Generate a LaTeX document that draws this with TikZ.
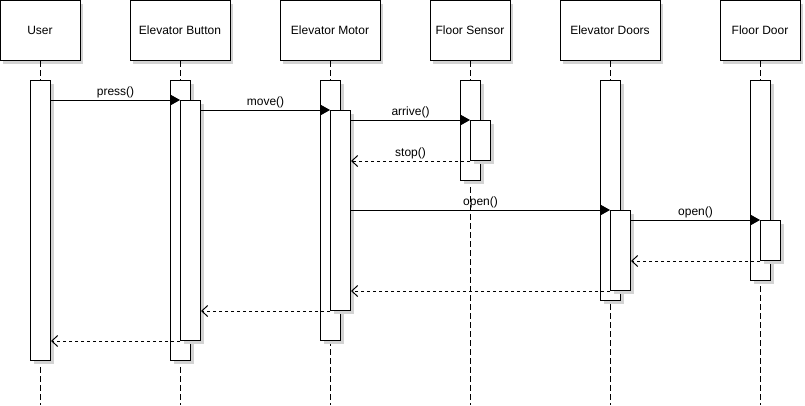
\documentclass[tikz,border=0pt]{standalone}
\usepackage{fontspec}
\setmainfont{Liberation Sans}
\usetikzlibrary{arrows.meta}
\usetikzlibrary{shadows}

\definecolor{shade}{RGB}{211,211,211}

\begin{document}
\begin{tikzpicture}[x=1pt, y=-1pt, line width=1pt,
    every node/.style={font=\fontsize{12}{14}\selectfont},
    shade box/.style={drop shadow={shadow xshift=3pt, shadow yshift=-3pt, fill=shade, opacity=1}},
    head/.style={draw, fill=white, minimum width=#1, minimum height=60pt, inner sep=0pt, shade box},
    act/.style={draw, fill=white, minimum width=20pt, minimum height=#1, inner sep=0pt, anchor=north west, shade box},
    life/.style={dash pattern=on 6pt off 3pt},
    call/.style={-{Triangle[length=10pt, width=11pt]}},
    ret/.style={dash pattern=on 3pt off 3pt, -{Straight Barb[length=6pt, width=11pt]}},
    lbl/.style={above, inner sep=2pt}]
    \useasboundingbox (0,0) rectangle (805,405);
    \coordinate (bottom) at (0,405);

    % participants
    \node[head=80pt]  (user)   at (40,30.5)  {User};
    \node[head=100pt] (button) at (180,30.5) {Elevator Button};
    \node[head=100pt] (motor)  at (330,30.5) {Elevator Motor};
    \node[head=80pt]  (sensor) at (470,30.5) {Floor Sensor};
    \node[head=100pt] (doors)  at (610,30.5) {Elevator Doors};
    \node[head=80pt]  (floor)  at (760,30.5) {Floor Door};

    % lifelines
    \foreach \p in {user, button, motor, sensor, doors, floor}
        \draw[life] (\p.south) -- (\p.south |- bottom);

    % activations
    \node[act=280pt] (u1) at (30,80)  {};
    \node[act=280pt] (b1) at (170,80) {};
    \node[act=240pt] (b2) at (180,100) {};
    \node[act=260pt] (m1) at (320,80) {};
    \node[act=200pt] (m2) at (330,110) {};
    \node[act=100pt] (s1) at (460,80) {};
    \node[act=40pt]  (s2) at (470,120) {};
    \node[act=220pt] (d1) at (600,80) {};
    \node[act=80pt]  (d2) at (610,210) {};
    \node[act=200pt] (f1) at (750,80) {};
    \node[act=40pt]  (f2) at (760,220) {};

    % messages
    \draw[call] (u1.east |- b2.north) -- node[lbl] {press()} (b2.north west);
    \draw[call] (b2.east |- m2.north) -- node[lbl] {move()} (m2.north west);
    \draw[call] (m2.east |- s2.north) -- node[lbl] {arrive()} (s2.north west);
    \draw[ret] (s2.south west) -- node[lbl] {stop()} (m2.east |- s2.south);
    \draw[call] (m2.east |- d2.north) -- node[lbl] {open()} (d2.north west);
    \draw[call] (d2.east |- f2.north) -- node[lbl] {open()} (f2.north west);
    \draw[ret] (f2.south west) -- (d2.east |- f2.south);
    \draw[ret] (d2.south west) -- (m2.east |- d2.south);
    \draw[ret] (m2.south west) -- (b2.east |- m2.south);
    \draw[ret] (b2.south west) -- (u1.east |- b2.south);
\end{tikzpicture}
\end{document}
